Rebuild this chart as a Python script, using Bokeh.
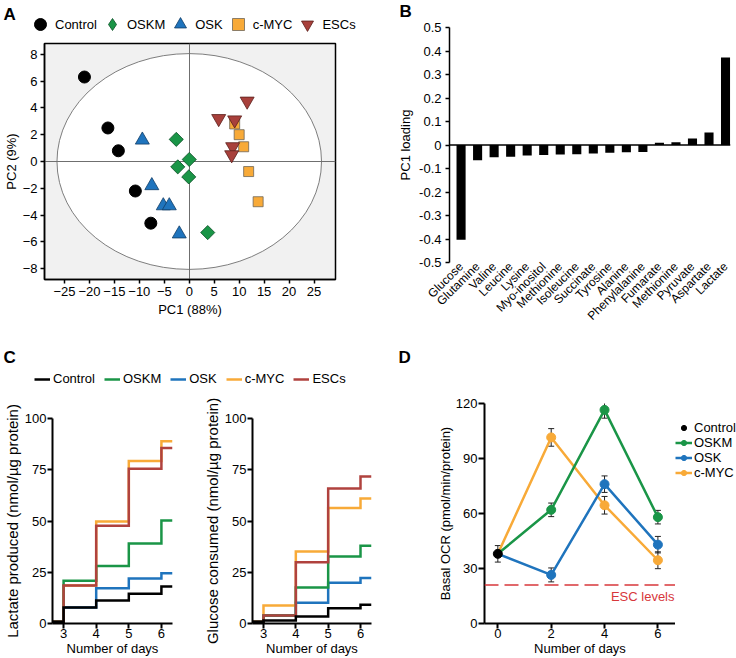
import math
from bokeh.plotting import figure
from bokeh.layouts import row, column
from bokeh.models import (Range1d, FixedTicker, Legend, LegendItem, Label, Span,
                          ColumnDataSource, Whisker, TeeHead, NumeralTickFormatter)
from bokeh.embed import file_html
from bokeh.resources import INLINE

FONT = "Liberation Sans"

# ---------------- colours ----------------
C_CONTROL = "#000000"
C_OSKM = "#1a9547"
C_OSK = "#1f74bd"
C_CMYC = "#f8aa38"
C_ESC = "#b0423e"

# ---------------- Panel A data (PCA scores) ----------------
pca_groups = ["Control", "OSKM", "OSK", "c-MYC", "ESCs"]
pca_control_pc1 = [-21.0, -16.3, -14.2, -10.8, -7.7]
pca_control_pc2 = [6.3, 2.5, 0.8, -2.2, -4.6]
pca_oskm_pc1 = [-2.6, 0.0, -2.3, -0.1, 3.7]
pca_oskm_pc2 = [1.65, 0.15, -0.4, -1.15, -5.3]
pca_osk_pc1 = [-9.4, -7.5, -5.2, -4.0, -2.0]
pca_osk_pc2 = [1.6, -1.8, -3.3, -3.3, -5.4]
pca_cmyc_pc1 = [9.1, 10.0, 10.9, 11.9, 13.8]
pca_cmyc_pc2 = [2.8, 2.0, 1.1, -0.75, -3.0]
pca_esc_pc1 = [11.6, 5.9, 9.1, 8.7, 8.5]
pca_esc_pc2 = [4.5, 3.2, 3.1, 1.1, 0.5]
ellipse_pc1_semi = 26.5
ellipse_pc2_semi = 8.05
A_XTICKS = [-25, -20, -15, -10, -5, 0, 5, 10, 15, 20, 25]
A_YTICKS = [-8, -6, -4, -2, 0, 2, 4, 6, 8]

# ---------------- Panel B data (PC1 loadings) ----------------
metabolites = ["Glucose", "Glutamine", "Valine", "Leucine", "Lysine", "Myo-inositol",
               "Methionine", "Isoleucine", "Succinate", "Tyrosine", "Alanine",
               "Phenylalanine", "Fumarate", "Methionine", "Pyruvate", "Aspartate", "Lactate"]
pc1_loading = [-0.403, -0.065, -0.052, -0.050, -0.045, -0.043, -0.040, -0.039, -0.036,
               -0.033, -0.031, -0.030, 0.010, 0.012, 0.028, 0.053, 0.372]
B_YTICKS = [0.5, 0.4, 0.3, 0.2, 0.1, 0, -0.1, -0.2, -0.3, -0.4, -0.5]

# ---------------- Panel C data (cumulative) ----------------
days = [3, 4, 5, 6]
pre_day3 = 0.8
lactate_control = [7.8, 11.2, 14.5, 18.1]
lactate_oskm = [20.8, 28.1, 39.0, 50.2]
lactate_osk = [7.8, 17.2, 22.0, 24.5]
lactate_cmyc = [18.5, 49.7, 79.3, 88.9]
lactate_esc = [18.5, 47.7, 75.5, 85.6]
glucose_control = [1.5, 3.4, 7.5, 9.1]
glucose_oskm = [3.9, 17.6, 32.7, 37.9]
glucose_osk = [3.9, 10.1, 19.9, 22.2]
glucose_cmyc = [8.8, 35.1, 56.4, 61.0]
glucose_esc = [3.9, 29.9, 65.8, 71.7]
C_XTICKS = [3, 4, 5, 6]
C_YTICKS = [0, 25, 50, 75, 100]

# ---------------- Panel D data (basal OCR) ----------------
ocr_days = [0, 2, 4, 6]
ocr_control = [38.0]
ocr_control_err = [4.5]
ocr_oskm = [38.0, 62.0, 116.5, 58.0]
ocr_oskm_err = [4.5, 3.7, 4.5, 3.7]
ocr_osk = [38.0, 26.5, 76.0, 43.0]
ocr_osk_err = [4.5, 3.8, 4.5, 4.5]
ocr_cmyc = [38.0, 101.5, 64.5, 34.5]
ocr_cmyc_err = [4.5, 4.8, 4.8, 4.6]
esc_ocr_level = 21.0
D_XTICKS = [0, 2, 4, 6]
D_YTICKS = [0, 30, 60, 90, 120]


# ---------------- helpers ----------------
def base_fig(w, h, xr, yr, left, right, top, bottom, **kw):
    p = figure(width=w, height=h, x_range=xr, y_range=yr, output_backend="svg",
               toolbar_location=None, min_border_left=left, min_border_right=right,
               min_border_top=top, min_border_bottom=bottom, frame_align=False, **kw)
    p.xgrid.visible = False
    p.ygrid.visible = False
    p.outline_line_color = None
    p.background_fill_color = "white"
    p.border_fill_color = "white"
    return p


def strip_fig(w, h):
    p = figure(width=w, height=h, x_range=Range1d(0, 1), y_range=Range1d(0, 1),
               output_backend="svg", toolbar_location=None, min_border=0, frame_align=False,
               x_axis_location=None, y_axis_location=None)
    p.xgrid.visible = False
    p.ygrid.visible = False
    p.outline_line_color = None
    return p


def style_axis(ax, tick_out, standoff, label_standoff, line_w=1.5, tick_font="13px", label_font="13px"):
    ax.axis_line_color = "black"
    ax.axis_line_width = line_w
    ax.major_tick_line_color = "black"
    ax.major_tick_line_width = line_w
    ax.major_tick_out = tick_out
    ax.major_tick_in = 0
    ax.minor_tick_line_color = None
    ax.major_label_text_font = FONT
    ax.major_label_text_font_size = tick_font
    ax.major_label_text_color = "black"
    ax.major_label_standoff = standoff
    ax.axis_label_text_font = FONT
    ax.axis_label_text_font_size = label_font
    ax.axis_label_text_font_style = "normal"
    ax.axis_label_text_color = "black"
    ax.axis_label_standoff = label_standoff


def letter(p, text, x, y):
    p.add_layout(Label(x=x, y=y, x_units="screen", y_units="screen", text=text,
                       text_font=FONT, text_font_size="17px", text_font_style="bold",
                       text_baseline="top", text_align="left", text_color="black"))


def legend_style(lg, font="13px"):
    lg.label_text_font = FONT
    lg.label_text_font_size = font
    lg.label_text_color = "black"
    lg.padding = 0
    lg.margin = 0
    lg.border_line_color = None
    lg.background_fill_alpha = 0


A_STYLE = [
    (pca_control_pc1, pca_control_pc2, dict(marker="circle", size=12, fill_color=C_CONTROL, line_color="black")),
    (pca_oskm_pc1, pca_oskm_pc2, dict(marker="square", angle=math.pi / 4, size=10, fill_color=C_OSKM,
                                      line_color="#0b4f26", line_width=0.8)),
    (pca_osk_pc1, pca_osk_pc2, dict(marker="triangle", size=14, fill_color=C_OSK,
                                    line_color="#103c66", line_width=0.8)),
    (pca_cmyc_pc1, pca_cmyc_pc2, dict(marker="square", size=10, fill_color=C_CMYC,
                                      line_color="#6e6658", line_width=0.8)),
    (pca_esc_pc1, pca_esc_pc2, dict(marker="inverted_triangle", size=14, fill_color="#a8403b",
                                    line_color="#5a1f1c", line_width=0.8)),
]
# key markers (legend draws markers unrotated, so the diamond key uses the diamond marker)
A_KEY_MARKERS = ["circle", "diamond", "triangle", "square", "inverted_triangle"]

# ================= Panel A header (letter + key) =================
AT_W, AT_H = 368, 35
pAt = strip_fig(AT_W, AT_H)
at_items = []
for nm, (xs, ys, st), km in zip(pca_groups, A_STYLE, A_KEY_MARKERS):
    st_key = dict(st)
    st_key.pop("angle", None)
    st_key["marker"] = km
    r = pAt.scatter(xs, ys, visible=False, **st_key)
    at_items.append(LegendItem(label=nm, renderers=[r]))
legA = Legend(items=at_items, orientation="horizontal", location=(25, AT_H - 39),
              glyph_width=30, glyph_height=30, label_height=14, label_standoff=-3, spacing=-2)
legend_style(legA)
pAt.add_layout(legA)
letter(pAt, "A", 3, AT_H - 4)

# ================= Panel A =================
pA = base_fig(368, 295, Range1d(-29.0, 29.3), Range1d(-8.8, 8.8), 39, 33, 8, 51)
pA.background_fill_color = "#f1f1f1"
pA.outline_line_color = "black"
pA.outline_line_width = 1.5
pA.ellipse(x=[0], y=[0], width=[2 * ellipse_pc1_semi], height=[2 * ellipse_pc2_semi],
           fill_color="white", line_color="#6f6f6f", line_width=0.9)
pA.vspan(x=[0], line_color="#6f6f6f", line_width=1)
pA.hspan(y=[0], line_color="#6f6f6f", line_width=1)
for xs, ys, st in A_STYLE:
    pA.scatter(xs, ys, **st)
pA.xaxis.ticker = FixedTicker(ticks=A_XTICKS)
pA.yaxis.ticker = FixedTicker(ticks=A_YTICKS)
pA.xaxis.axis_label = "PC1 (88%)"
pA.yaxis.axis_label = "PC2 (9%)"
style_axis(pA.xaxis[0], 4, 3, 3)
style_axis(pA.yaxis[0], 4, 3, 1)

# ================= Panel B header =================
pBt = strip_fig(368, 20)
letter(pBt, "B", 31, 19)

# ================= Panel B =================
pB = base_fig(368, 310, Range1d(-0.7, 16.3), Range1d(-0.5, 0.5), 81, 6, 7, 64)
b_index = list(range(len(metabolites)))
pB.vbar(x=b_index, top=pc1_loading, bottom=0, width=0.55, fill_color="black", line_color=None)
pB.add_layout(Span(location=0, dimension="width", line_color="black", line_width=1.5))
pB.xaxis.ticker = FixedTicker(ticks=b_index)
pB.xaxis.major_label_overrides = {i: m for i, m in enumerate(metabolites)}
pB.xaxis.major_label_orientation = math.pi / 4
pB.yaxis.ticker = FixedTicker(ticks=B_YTICKS)
pB.yaxis.formatter = NumeralTickFormatter(format="0.[0]")
pB.yaxis.axis_label = "PC1 loading"
style_axis(pB.yaxis[0], 4, 4, 3)
style_axis(pB.xaxis[0], 0, 2, 0, tick_font="12px")
pB.xaxis.axis_line_color = None
pB.xaxis.major_tick_line_color = None

# ================= Panel C header (letter + key) =================
CT_H = 62
pCt = strip_fig(380, CT_H)
c_names = ["Control", "OSKM", "OSK", "c-MYC", "ESCs"]
c_cols = [C_CONTROL, C_OSKM, C_OSK, C_CMYC, C_ESC]
c_lact = [lactate_control, lactate_oskm, lactate_osk, lactate_cmyc, lactate_esc]
ct_items = []
for nm, col, vals in zip(c_names, c_cols, c_lact):
    r = pCt.line(x=days, y=vals, line_color=col, line_width=2.5, visible=False)
    ct_items.append(LegendItem(label=nm, renderers=[r]))
legC = Legend(items=ct_items, orientation="horizontal", location=(34, 6),
              glyph_width=16, glyph_height=14, label_height=14, label_standoff=3, spacing=9)
legend_style(legC)
pCt.add_layout(legC)
letter(pCt, "C", 3, 45)

# ================= Panel C plots =================
C_XR = (2.66, 6.34)
C_YR = (0, 100)
C_H, C_T, C_B = 266, 26, 34


def step_panel(w, left, right, ylabel, series):
    p = base_fig(w, C_H, Range1d(*C_XR), Range1d(*C_YR), left, right, C_T, C_B)
    for vals, col in series:
        p.step(x=[C_XR[0]] + days + [C_XR[1]], y=[pre_day3] + vals + [vals[-1]],
               mode="after", line_color=col, line_width=2.5, line_join="miter")
    p.xaxis.ticker = FixedTicker(ticks=C_XTICKS)
    p.yaxis.ticker = FixedTicker(ticks=C_YTICKS)
    p.xaxis.axis_label = "Number of days"
    p.yaxis.axis_label = ylabel
    style_axis(p.xaxis[0], 5, 0, 0, line_w=2)
    style_axis(p.yaxis[0], 5, 1, 1, line_w=2, label_font="15px")
    return p


pC1 = step_panel(200, 48, 28, "Lactate produced (nmol/µg protein)",
                 [(lactate_osk, C_OSK), (lactate_cmyc, C_CMYC), (lactate_oskm, C_OSKM),
                  (lactate_esc, C_ESC), (lactate_control, C_CONTROL)])
pC2 = step_panel(180, 46, 9, "Glucose consumed (nmol/µg protein)",
                 [(glucose_osk, C_OSK), (glucose_cmyc, C_CMYC), (glucose_oskm, C_OSKM),
                  (glucose_esc, C_ESC), (glucose_control, C_CONTROL)])

# ================= Panel D header =================
DT_H = 40
pDt = strip_fig(356, DT_H)
letter(pDt, "D", 18, 23)

# ================= Panel D =================
D_XR = (-0.5, 6.66)
D_W, D_H, D_L, D_R, D_T, D_B = 295, 288, 104, 0, 33, 34
pD = base_fig(D_W, D_H, Range1d(*D_XR), Range1d(0, 120), D_L, D_R, D_T, D_B)
pD.add_layout(Span(location=esc_ocr_level, dimension="width", line_color="#d7373b",
                   line_width=1.5, line_dash="14 6"))
pD.add_layout(Label(x=D_XR[1], y=esc_ocr_level, x_offset=-1, y_offset=-4, text="ESC levels",
                    text_align="right", text_baseline="top", text_color="#d7373b",
                    text_font=FONT, text_font_size="13px"))

err_x, err_up, err_lo = [], [], []
for vals, errs in [(ocr_cmyc, ocr_cmyc_err), (ocr_osk, ocr_osk_err), (ocr_oskm, ocr_oskm_err)]:
    for d, v, e in list(zip(ocr_days, vals, errs))[1:]:
        err_x.append(d)
        err_up.append(v + e)
        err_lo.append(v - e)
for v, e in zip(ocr_control, ocr_control_err):
    err_x.append(ocr_days[0])
    err_up.append(v + e)
    err_lo.append(v - e)
err_src = ColumnDataSource(dict(x=err_x, upper=err_up, lower=err_lo))
pD.add_layout(Whisker(base="x", upper="upper", lower="lower", source=err_src,
                      line_color="#222222", line_width=1,
                      upper_head=TeeHead(size=6, line_color="#222222", line_width=1),
                      lower_head=TeeHead(size=6, line_color="#222222", line_width=1)))

d_series = [("c-MYC", ocr_cmyc, C_CMYC), ("OSK", ocr_osk, C_OSK), ("OSKM", ocr_oskm, C_OSKM)]
for nm, vals, col in d_series:
    pD.line(ocr_days, vals, line_color=col, line_width=2.5, line_join="round")
    pD.scatter(ocr_days[1:], vals[1:], marker="circle", size=9, fill_color=col, line_color=col)
pD.scatter(ocr_days[:1], ocr_control, marker="circle", size=9, fill_color="black", line_color="black")
pD.xaxis.ticker = FixedTicker(ticks=D_XTICKS)
pD.yaxis.ticker = FixedTicker(ticks=D_YTICKS)
pD.xaxis.axis_label = "Number of days"
pD.yaxis.axis_label = "Basal OCR (pmol/min/protein)"
style_axis(pD.xaxis[0], 5, 0, 0, line_w=2)
style_axis(pD.yaxis[0], 6, 1, 0, line_w=2)

# ================= Panel D key (strip right of the plot) =================
DL_W = 61
pDl = strip_fig(DL_W, D_H)
dl_ctrl = pDl.scatter(ocr_days[:1], ocr_control, marker="circle", fill_color="black",
                      line_color="black", visible=False)
dl_items = [LegendItem(label="Control", renderers=[dl_ctrl])]
for nm in ["OSKM", "OSK", "c-MYC"]:
    _, vals, col = [s for s in d_series if s[0] == nm][0]
    rl = pDl.line(ocr_days, vals, line_color=col, line_width=2.5, visible=False)
    rs = pDl.scatter(ocr_days[1:], vals[1:], marker="circle", fill_color=col, line_color=col, visible=False)
    dl_items.append(LegendItem(label=nm, renderers=[rl, rs]))
legD = Legend(items=dl_items, orientation="vertical", location=(0, 178),
              glyph_width=17, glyph_height=13, label_height=13, label_standoff=2, spacing=0,
              label_text_line_height=1.0)
legend_style(legD)
pDl.add_layout(legD)

layout = column(
    row(column(pAt, pA), column(pBt, pB)),
    row(column(pCt, row(pC1, pC2)), column(pDt, row(pD, pDl))),
)

with open("out.html", "w", encoding="utf-8") as f:
    f.write(file_html(layout, INLINE))
